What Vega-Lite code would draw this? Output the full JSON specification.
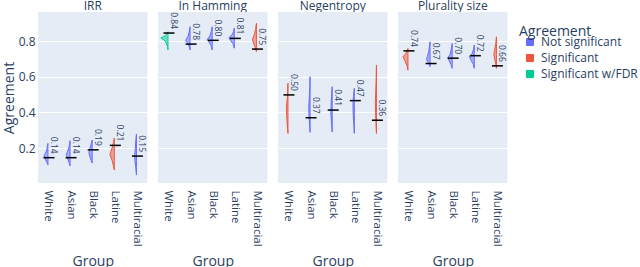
{
  "$schema": "https://vega.github.io/schema/vega-lite/v6.json",
  "padding": {"left": 2, "top": 0, "right": 0, "bottom": 0},
  "background": "white",
  "data": {"values": [
    {"k":"v","m":"IRR","g":"White","gi":0,"s":"Not significant","v":0.105,"d":0},
    {"k":"v","m":"IRR","g":"White","gi":0,"s":"Not significant","v":0.12,"d":0.05},
    {"k":"v","m":"IRR","g":"White","gi":0,"s":"Not significant","v":0.14,"d":0.13},
    {"k":"v","m":"IRR","g":"White","gi":0,"s":"Not significant","v":0.155,"d":0.18},
    {"k":"v","m":"IRR","g":"White","gi":0,"s":"Not significant","v":0.17,"d":0.12},
    {"k":"v","m":"IRR","g":"White","gi":0,"s":"Not significant","v":0.19,"d":0.05},
    {"k":"v","m":"IRR","g":"White","gi":0,"s":"Not significant","v":0.21,"d":0.03},
    {"k":"v","m":"IRR","g":"White","gi":0,"s":"Not significant","v":0.226,"d":0},
    {"k":"v","m":"IRR","g":"Asian","gi":1,"s":"Not significant","v":0.10,"d":0},
    {"k":"v","m":"IRR","g":"Asian","gi":1,"s":"Not significant","v":0.12,"d":0.05},
    {"k":"v","m":"IRR","g":"Asian","gi":1,"s":"Not significant","v":0.145,"d":0.12},
    {"k":"v","m":"IRR","g":"Asian","gi":1,"s":"Not significant","v":0.165,"d":0.17},
    {"k":"v","m":"IRR","g":"Asian","gi":1,"s":"Not significant","v":0.185,"d":0.10},
    {"k":"v","m":"IRR","g":"Asian","gi":1,"s":"Not significant","v":0.21,"d":0.04},
    {"k":"v","m":"IRR","g":"Asian","gi":1,"s":"Not significant","v":0.241,"d":0},
    {"k":"v","m":"IRR","g":"Black","gi":2,"s":"Not significant","v":0.116,"d":0},
    {"k":"v","m":"IRR","g":"Black","gi":2,"s":"Not significant","v":0.13,"d":0.04},
    {"k":"v","m":"IRR","g":"Black","gi":2,"s":"Not significant","v":0.15,"d":0.10},
    {"k":"v","m":"IRR","g":"Black","gi":2,"s":"Not significant","v":0.175,"d":0.15},
    {"k":"v","m":"IRR","g":"Black","gi":2,"s":"Not significant","v":0.20,"d":0.10},
    {"k":"v","m":"IRR","g":"Black","gi":2,"s":"Not significant","v":0.225,"d":0.04},
    {"k":"v","m":"IRR","g":"Black","gi":2,"s":"Not significant","v":0.245,"d":0},
    {"k":"v","m":"IRR","g":"Latine","gi":3,"s":"Significant","v":0.077,"d":0},
    {"k":"v","m":"IRR","g":"Latine","gi":3,"s":"Significant","v":0.10,"d":0.04},
    {"k":"v","m":"IRR","g":"Latine","gi":3,"s":"Significant","v":0.13,"d":0.10},
    {"k":"v","m":"IRR","g":"Latine","gi":3,"s":"Significant","v":0.165,"d":0.20},
    {"k":"v","m":"IRR","g":"Latine","gi":3,"s":"Significant","v":0.20,"d":0.10},
    {"k":"v","m":"IRR","g":"Latine","gi":3,"s":"Significant","v":0.23,"d":0.04},
    {"k":"v","m":"IRR","g":"Latine","gi":3,"s":"Significant","v":0.256,"d":0},
    {"k":"v","m":"IRR","g":"Multiracial","gi":4,"s":"Not significant","v":0.05,"d":0},
    {"k":"v","m":"IRR","g":"Multiracial","gi":4,"s":"Not significant","v":0.09,"d":0.03},
    {"k":"v","m":"IRR","g":"Multiracial","gi":4,"s":"Not significant","v":0.13,"d":0.07},
    {"k":"v","m":"IRR","g":"Multiracial","gi":4,"s":"Not significant","v":0.16,"d":0.08},
    {"k":"v","m":"IRR","g":"Multiracial","gi":4,"s":"Not significant","v":0.20,"d":0.05},
    {"k":"v","m":"IRR","g":"Multiracial","gi":4,"s":"Not significant","v":0.24,"d":0.03},
    {"k":"v","m":"IRR","g":"Multiracial","gi":4,"s":"Not significant","v":0.278,"d":0},

    {"k":"v","m":"In Hamming","g":"White","gi":0,"s":"Significant w/FDR","v":0.75,"d":0},
    {"k":"v","m":"In Hamming","g":"White","gi":0,"s":"Significant w/FDR","v":0.77,"d":0.02},
    {"k":"v","m":"In Hamming","g":"White","gi":0,"s":"Significant w/FDR","v":0.80,"d":0.12},
    {"k":"v","m":"In Hamming","g":"White","gi":0,"s":"Significant w/FDR","v":0.817,"d":0.32},
    {"k":"v","m":"In Hamming","g":"White","gi":0,"s":"Significant w/FDR","v":0.83,"d":0.12},
    {"k":"v","m":"In Hamming","g":"White","gi":0,"s":"Significant w/FDR","v":0.845,"d":0.03},
    {"k":"v","m":"In Hamming","g":"White","gi":0,"s":"Significant w/FDR","v":0.852,"d":0},
    {"k":"v","m":"In Hamming","g":"Asian","gi":1,"s":"Not significant","v":0.75,"d":0},
    {"k":"v","m":"In Hamming","g":"Asian","gi":1,"s":"Not significant","v":0.77,"d":0.04},
    {"k":"v","m":"In Hamming","g":"Asian","gi":1,"s":"Not significant","v":0.79,"d":0.12},
    {"k":"v","m":"In Hamming","g":"Asian","gi":1,"s":"Not significant","v":0.805,"d":0.20},
    {"k":"v","m":"In Hamming","g":"Asian","gi":1,"s":"Not significant","v":0.825,"d":0.10},
    {"k":"v","m":"In Hamming","g":"Asian","gi":1,"s":"Not significant","v":0.85,"d":0.04},
    {"k":"v","m":"In Hamming","g":"Asian","gi":1,"s":"Not significant","v":0.88,"d":0},
    {"k":"v","m":"In Hamming","g":"Black","gi":2,"s":"Not significant","v":0.75,"d":0},
    {"k":"v","m":"In Hamming","g":"Black","gi":2,"s":"Not significant","v":0.775,"d":0.05},
    {"k":"v","m":"In Hamming","g":"Black","gi":2,"s":"Not significant","v":0.795,"d":0.15},
    {"k":"v","m":"In Hamming","g":"Black","gi":2,"s":"Not significant","v":0.81,"d":0.22},
    {"k":"v","m":"In Hamming","g":"Black","gi":2,"s":"Not significant","v":0.83,"d":0.10},
    {"k":"v","m":"In Hamming","g":"Black","gi":2,"s":"Not significant","v":0.855,"d":0.04},
    {"k":"v","m":"In Hamming","g":"Black","gi":2,"s":"Not significant","v":0.88,"d":0},
    {"k":"v","m":"In Hamming","g":"Latine","gi":3,"s":"Not significant","v":0.76,"d":0},
    {"k":"v","m":"In Hamming","g":"Latine","gi":3,"s":"Not significant","v":0.785,"d":0.06},
    {"k":"v","m":"In Hamming","g":"Latine","gi":3,"s":"Not significant","v":0.805,"d":0.18},
    {"k":"v","m":"In Hamming","g":"Latine","gi":3,"s":"Not significant","v":0.818,"d":0.25},
    {"k":"v","m":"In Hamming","g":"Latine","gi":3,"s":"Not significant","v":0.835,"d":0.10},
    {"k":"v","m":"In Hamming","g":"Latine","gi":3,"s":"Not significant","v":0.855,"d":0.03},
    {"k":"v","m":"In Hamming","g":"Latine","gi":3,"s":"Not significant","v":0.873,"d":0},
    {"k":"v","m":"In Hamming","g":"Multiracial","gi":4,"s":"Significant","v":0.74,"d":0},
    {"k":"v","m":"In Hamming","g":"Multiracial","gi":4,"s":"Significant","v":0.765,"d":0.06},
    {"k":"v","m":"In Hamming","g":"Multiracial","gi":4,"s":"Significant","v":0.79,"d":0.14},
    {"k":"v","m":"In Hamming","g":"Multiracial","gi":4,"s":"Significant","v":0.81,"d":0.18},
    {"k":"v","m":"In Hamming","g":"Multiracial","gi":4,"s":"Significant","v":0.835,"d":0.10},
    {"k":"v","m":"In Hamming","g":"Multiracial","gi":4,"s":"Significant","v":0.865,"d":0.04},
    {"k":"v","m":"In Hamming","g":"Multiracial","gi":4,"s":"Significant","v":0.90,"d":0},

    {"k":"v","m":"Negentropy","g":"White","gi":0,"s":"Significant","v":0.282,"d":0},
    {"k":"v","m":"Negentropy","g":"White","gi":0,"s":"Significant","v":0.33,"d":0.03},
    {"k":"v","m":"Negentropy","g":"White","gi":0,"s":"Significant","v":0.39,"d":0.06},
    {"k":"v","m":"Negentropy","g":"White","gi":0,"s":"Significant","v":0.43,"d":0.07},
    {"k":"v","m":"Negentropy","g":"White","gi":0,"s":"Significant","v":0.49,"d":0.02},
    {"k":"v","m":"Negentropy","g":"White","gi":0,"s":"Significant","v":0.53,"d":0.01},
    {"k":"v","m":"Negentropy","g":"White","gi":0,"s":"Significant","v":0.563,"d":0},
    {"k":"v","m":"Negentropy","g":"Asian","gi":1,"s":"Not significant","v":0.288,"d":0},
    {"k":"v","m":"Negentropy","g":"Asian","gi":1,"s":"Not significant","v":0.33,"d":0.02},
    {"k":"v","m":"Negentropy","g":"Asian","gi":1,"s":"Not significant","v":0.38,"d":0.05},
    {"k":"v","m":"Negentropy","g":"Asian","gi":1,"s":"Not significant","v":0.43,"d":0.06},
    {"k":"v","m":"Negentropy","g":"Asian","gi":1,"s":"Not significant","v":0.50,"d":0.03},
    {"k":"v","m":"Negentropy","g":"Asian","gi":1,"s":"Not significant","v":0.55,"d":0.01},
    {"k":"v","m":"Negentropy","g":"Asian","gi":1,"s":"Not significant","v":0.60,"d":0},
    {"k":"v","m":"Negentropy","g":"Black","gi":2,"s":"Not significant","v":0.29,"d":0},
    {"k":"v","m":"Negentropy","g":"Black","gi":2,"s":"Not significant","v":0.34,"d":0.03},
    {"k":"v","m":"Negentropy","g":"Black","gi":2,"s":"Not significant","v":0.39,"d":0.06},
    {"k":"v","m":"Negentropy","g":"Black","gi":2,"s":"Not significant","v":0.44,"d":0.05},
    {"k":"v","m":"Negentropy","g":"Black","gi":2,"s":"Not significant","v":0.49,"d":0.03},
    {"k":"v","m":"Negentropy","g":"Black","gi":2,"s":"Not significant","v":0.544,"d":0},
    {"k":"v","m":"Negentropy","g":"Latine","gi":3,"s":"Not significant","v":0.282,"d":0},
    {"k":"v","m":"Negentropy","g":"Latine","gi":3,"s":"Not significant","v":0.33,"d":0.02},
    {"k":"v","m":"Negentropy","g":"Latine","gi":3,"s":"Not significant","v":0.39,"d":0.05},
    {"k":"v","m":"Negentropy","g":"Latine","gi":3,"s":"Not significant","v":0.44,"d":0.06},
    {"k":"v","m":"Negentropy","g":"Latine","gi":3,"s":"Not significant","v":0.49,"d":0.04},
    {"k":"v","m":"Negentropy","g":"Latine","gi":3,"s":"Not significant","v":0.535,"d":0},
    {"k":"v","m":"Negentropy","g":"Multiracial","gi":4,"s":"Significant","v":0.282,"d":0},
    {"k":"v","m":"Negentropy","g":"Multiracial","gi":4,"s":"Significant","v":0.34,"d":0.02},
    {"k":"v","m":"Negentropy","g":"Multiracial","gi":4,"s":"Significant","v":0.40,"d":0.04},
    {"k":"v","m":"Negentropy","g":"Multiracial","gi":4,"s":"Significant","v":0.46,"d":0.05},
    {"k":"v","m":"Negentropy","g":"Multiracial","gi":4,"s":"Significant","v":0.52,"d":0.03},
    {"k":"v","m":"Negentropy","g":"Multiracial","gi":4,"s":"Significant","v":0.59,"d":0.01},
    {"k":"v","m":"Negentropy","g":"Multiracial","gi":4,"s":"Significant","v":0.665,"d":0},

    {"k":"v","m":"Plurality size","g":"White","gi":0,"s":"Significant","v":0.637,"d":0},
    {"k":"v","m":"Plurality size","g":"White","gi":0,"s":"Significant","v":0.66,"d":0.04},
    {"k":"v","m":"Plurality size","g":"White","gi":0,"s":"Significant","v":0.69,"d":0.14},
    {"k":"v","m":"Plurality size","g":"White","gi":0,"s":"Significant","v":0.712,"d":0.22},
    {"k":"v","m":"Plurality size","g":"White","gi":0,"s":"Significant","v":0.73,"d":0.10},
    {"k":"v","m":"Plurality size","g":"White","gi":0,"s":"Significant","v":0.745,"d":0.03},
    {"k":"v","m":"Plurality size","g":"White","gi":0,"s":"Significant","v":0.759,"d":0},
    {"k":"v","m":"Plurality size","g":"Asian","gi":1,"s":"Not significant","v":0.656,"d":0},
    {"k":"v","m":"Plurality size","g":"Asian","gi":1,"s":"Not significant","v":0.675,"d":0.06},
    {"k":"v","m":"Plurality size","g":"Asian","gi":1,"s":"Not significant","v":0.695,"d":0.16},
    {"k":"v","m":"Plurality size","g":"Asian","gi":1,"s":"Not significant","v":0.715,"d":0.12},
    {"k":"v","m":"Plurality size","g":"Asian","gi":1,"s":"Not significant","v":0.74,"d":0.06},
    {"k":"v","m":"Plurality size","g":"Asian","gi":1,"s":"Not significant","v":0.77,"d":0.03},
    {"k":"v","m":"Plurality size","g":"Asian","gi":1,"s":"Not significant","v":0.796,"d":0},
    {"k":"v","m":"Plurality size","g":"Black","gi":2,"s":"Not significant","v":0.647,"d":0},
    {"k":"v","m":"Plurality size","g":"Black","gi":2,"s":"Not significant","v":0.67,"d":0.06},
    {"k":"v","m":"Plurality size","g":"Black","gi":2,"s":"Not significant","v":0.69,"d":0.14},
    {"k":"v","m":"Plurality size","g":"Black","gi":2,"s":"Not significant","v":0.705,"d":0.20},
    {"k":"v","m":"Plurality size","g":"Black","gi":2,"s":"Not significant","v":0.725,"d":0.10},
    {"k":"v","m":"Plurality size","g":"Black","gi":2,"s":"Not significant","v":0.755,"d":0.04},
    {"k":"v","m":"Plurality size","g":"Black","gi":2,"s":"Not significant","v":0.787,"d":0},
    {"k":"v","m":"Plurality size","g":"Latine","gi":3,"s":"Not significant","v":0.647,"d":0},
    {"k":"v","m":"Plurality size","g":"Latine","gi":3,"s":"Not significant","v":0.67,"d":0.05},
    {"k":"v","m":"Plurality size","g":"Latine","gi":3,"s":"Not significant","v":0.695,"d":0.16},
    {"k":"v","m":"Plurality size","g":"Latine","gi":3,"s":"Not significant","v":0.712,"d":0.22},
    {"k":"v","m":"Plurality size","g":"Latine","gi":3,"s":"Not significant","v":0.73,"d":0.10},
    {"k":"v","m":"Plurality size","g":"Latine","gi":3,"s":"Not significant","v":0.755,"d":0.03},
    {"k":"v","m":"Plurality size","g":"Latine","gi":3,"s":"Not significant","v":0.778,"d":0},
    {"k":"v","m":"Plurality size","g":"Multiracial","gi":4,"s":"Significant","v":0.647,"d":0},
    {"k":"v","m":"Plurality size","g":"Multiracial","gi":4,"s":"Significant","v":0.67,"d":0.03},
    {"k":"v","m":"Plurality size","g":"Multiracial","gi":4,"s":"Significant","v":0.70,"d":0.08},
    {"k":"v","m":"Plurality size","g":"Multiracial","gi":4,"s":"Significant","v":0.725,"d":0.12},
    {"k":"v","m":"Plurality size","g":"Multiracial","gi":4,"s":"Significant","v":0.75,"d":0.08},
    {"k":"v","m":"Plurality size","g":"Multiracial","gi":4,"s":"Significant","v":0.785,"d":0.03},
    {"k":"v","m":"Plurality size","g":"Multiracial","gi":4,"s":"Significant","v":0.824,"d":0},

    {"k":"m","m":"IRR","g":"White","gi":0,"s":"Not significant","v":0.146,"label":"0.14"},
    {"k":"m","m":"IRR","g":"Asian","gi":1,"s":"Not significant","v":0.146,"label":"0.14"},
    {"k":"m","m":"IRR","g":"Black","gi":2,"s":"Not significant","v":0.19,"label":"0.19"},
    {"k":"m","m":"IRR","g":"Latine","gi":3,"s":"Significant","v":0.215,"label":"0.21"},
    {"k":"m","m":"IRR","g":"Multiracial","gi":4,"s":"Not significant","v":0.155,"label":"0.15"},
    {"k":"m","m":"In Hamming","g":"White","gi":0,"s":"Significant w/FDR","v":0.845,"label":"0.84"},
    {"k":"m","m":"In Hamming","g":"Asian","gi":1,"s":"Not significant","v":0.783,"label":"0.78"},
    {"k":"m","m":"In Hamming","g":"Black","gi":2,"s":"Not significant","v":0.804,"label":"0.80"},
    {"k":"m","m":"In Hamming","g":"Latine","gi":3,"s":"Not significant","v":0.815,"label":"0.81"},
    {"k":"m","m":"In Hamming","g":"Multiracial","gi":4,"s":"Significant","v":0.755,"label":"0.75"},
    {"k":"m","m":"Negentropy","g":"White","gi":0,"s":"Significant","v":0.498,"label":"0.50"},
    {"k":"m","m":"Negentropy","g":"Asian","gi":1,"s":"Not significant","v":0.37,"label":"0.37"},
    {"k":"m","m":"Negentropy","g":"Black","gi":2,"s":"Not significant","v":0.413,"label":"0.41"},
    {"k":"m","m":"Negentropy","g":"Latine","gi":3,"s":"Not significant","v":0.466,"label":"0.47"},
    {"k":"m","m":"Negentropy","g":"Multiracial","gi":4,"s":"Significant","v":0.356,"label":"0.36"},
    {"k":"m","m":"Plurality size","g":"White","gi":0,"s":"Significant","v":0.745,"label":"0.74"},
    {"k":"m","m":"Plurality size","g":"Asian","gi":1,"s":"Not significant","v":0.674,"label":"0.67"},
    {"k":"m","m":"Plurality size","g":"Black","gi":2,"s":"Not significant","v":0.704,"label":"0.70"},
    {"k":"m","m":"Plurality size","g":"Latine","gi":3,"s":"Not significant","v":0.718,"label":"0.72"},
    {"k":"m","m":"Plurality size","g":"Multiracial","gi":4,"s":"Significant","v":0.661,"label":"0.66"}
  ]},
  "facet": {
    "column": {
      "field": "m", "type": "nominal",
      "sort": ["IRR", "In Hamming", "Negentropy", "Plurality size"],
      "header": {"title": null, "labelFontSize": 12, "labelColor": "#2a3f5f", "labelPadding": -1, "labelFont": "Open Sans"}
    }
  },
  "spacing": 10,
  "spec": {
    "width": 109.5,
    "height": 171,
    "layer": [
      {
        "transform": [{"filter": "datum.k == 'v'"}, {"calculate": "datum.gi - datum.d", "as": "edge"}],
        "mark": {"type": "area", "orient": "horizontal", "fillOpacity": 0.5, "strokeWidth": 1, "strokeJoin": "round"},
        "encoding": {
          "y": {"field": "v", "type": "quantitative", "title": "Agreement",
                "scale": {"domain": [0.004, 0.963], "nice": false, "zero": false},
                "axis": {"values": [0.2, 0.4, 0.6, 0.8], "format": ".1f", "labelPadding": 3, "titlePadding": 2}},
          "x": {"field": "edge", "type": "quantitative", "title": "Group",
                "scale": {"domain": [-0.45, 4.5], "nice": false, "zero": false},
                "axis": {"values": [0, 1, 2, 3, 4], "tickCount": 5, "grid": false, "labelAngle": 90, "labelFlush": false, "labelOverlap": false, "labelPadding": 7, "titlePadding": 8,
                         "labelExpr": "['White','Asian','Black','Latine','Multiracial'][round(datum.value)]"}},
          "x2": {"field": "gi"},
          "fill": {"field": "s", "type": "nominal", "title": "Agreement",
                   "scale": {"domain": ["Not significant", "Significant", "Significant w/FDR"], "range": ["#636EFA", "#EF553B", "#00CC96"]}},
          "stroke": {"field": "s", "type": "nominal", "title": "Agreement",
                   "scale": {"domain": ["Not significant", "Significant", "Significant w/FDR"], "range": ["#636EFA", "#EF553B", "#00CC96"]}},
          "detail": {"field": "g"},
          "order": {"value": null}
        }
      },
      {
        "transform": [{"filter": "datum.k == 'm'"}],
        "mark": {"type": "rule", "color": "black", "strokeWidth": 1.5, "xOffset": -4.5, "x2Offset": 6.5},
        "encoding": {
          "y": {"field": "v", "type": "quantitative", "title": "Agreement",
                "axis": {"values": [0.2, 0.4, 0.6, 0.8], "format": ".1f", "labelPadding": 3, "titlePadding": 2}},
          "x": {"field": "gi", "type": "quantitative", "title": "Group",
                "axis": {"values": [0, 1, 2, 3, 4], "tickCount": 5, "grid": false, "labelAngle": 90, "labelFlush": false, "labelOverlap": false, "labelPadding": 7, "titlePadding": 8,
                         "labelExpr": "['White','Asian','Black','Latine','Multiracial'][round(datum.value)]"}},
          "x2": {"field": "gi"}
        }
      },
      {
        "transform": [{"filter": "datum.k == 'm'"}],
        "mark": {"type": "text", "angle": 90, "align": "right", "baseline": "alphabetic", "dx": -4, "dy": -3, "fontSize": 8.5, "color": "#2a3f5f"},
        "encoding": {
          "y": {"field": "v", "type": "quantitative", "title": "Agreement",
                "axis": {"values": [0.2, 0.4, 0.6, 0.8], "format": ".1f", "labelPadding": 3, "titlePadding": 2}},
          "x": {"field": "gi", "type": "quantitative", "title": "Group",
                "axis": {"values": [0, 1, 2, 3, 4], "tickCount": 5, "grid": false, "labelAngle": 90, "labelFlush": false, "labelOverlap": false, "labelPadding": 7, "titlePadding": 8,
                         "labelExpr": "['White','Asian','Black','Latine','Multiracial'][round(datum.value)]"}},
          "text": {"field": "label"}
        }
      }
    ]
  },
  "config": {
    "font": "Open Sans",
    "view": {"fill": "#E5ECF6", "stroke": null},
    "axis": {"labelColor": "#2a3f5f", "titleColor": "#2a3f5f", "labelFontSize": 12, "titleFontSize": 14, "titleFontWeight": "normal", "domain": false, "ticks": false, "gridColor": "white", "gridWidth": 1},
    "axisX": {"labelOverlap": false, "labelFontSize": 11.5, "labelAngle": 90},
    "legend": {"orient": "right", "offset": -2, "padding": 13, "titlePadding": -3, "titleFontSize": 14, "titleFontWeight": "normal", "titleColor": "#2a3f5f", "labelFontSize": 12, "labelColor": "#2a3f5f", "symbolType": "square", "symbolSize": 49, "symbolStrokeWidth": 1, "symbolOffset": 5, "labelOffset": 5, "rowPadding": 4,
               "encode": {"symbols": {"update": {"fillOpacity": {"value": 0.5}}}}}
  }
}
